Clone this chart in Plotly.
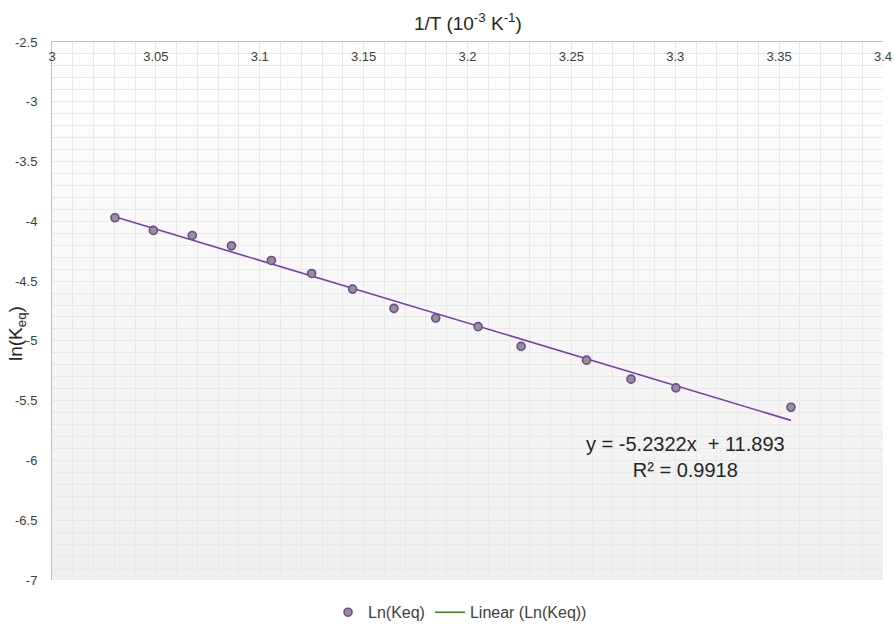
import numpy as np
import plotly.graph_objects as go

# ---- data ----
inv_T = [3.0303, 3.0488, 3.0675, 3.0864, 3.1056, 3.1250, 3.1447, 3.1646,
         3.1847, 3.2051, 3.2258, 3.2573, 3.2787, 3.3003, 3.3557]
ln_keq = [-3.970, -4.076, -4.118, -4.205, -4.327, -4.436, -4.567, -4.728,
          -4.809, -4.881, -5.046, -5.161, -5.320, -5.393, -5.555]
slope = -5.2322
intercept = 11.893
r_squared = 0.9918
x_tickvals = [3.0, 3.05, 3.1, 3.15, 3.2, 3.25, 3.3, 3.35, 3.4]
x_ticktext = ["3", "3.05", "3.1", "3.15", "3.2", "3.25", "3.3", "3.35", "3.4"]
y_tickvals = [-7, -6.5, -6, -5.5, -5, -4.5, -4, -3.5, -3, -2.5]
y_ticktext = ["-7", "-6.5", "-6", "-5.5", "-5", "-4.5", "-4", "-3.5", "-3", "-2.5"]
x_title = "1/T (10<sup>-3</sup> K<sup>-1</sup>)"
y_title = "ln(K<sub>eq</sub>)"
series_name = "Ln(Keq)"
trend_name = "Linear (Ln(Keq))"

FONT = "Liberation Sans, Arial, sans-serif"
PURPLE = "#7a3ea8"
TEXT = "#404040"

trend_x = np.array([min(inv_T), max(inv_T)])
trend_y = slope * trend_x + intercept

fig = go.Figure()

# trendline (drawn in purple, legend entry separate)
fig.add_trace(go.Scatter(
    x=trend_x, y=trend_y, mode="lines",
    line=dict(color=PURPLE, width=1.6),
    showlegend=False, hoverinfo="skip"))

fig.add_trace(go.Scatter(
    x=inv_T, y=ln_keq, mode="markers", name=series_name,
    marker=dict(size=8, color="#8c9a84",
                line=dict(color=PURPLE, width=1.6))))

# legend-only entry for the trendline
fig.add_trace(go.Scatter(
    x=[None], y=[None], mode="lines", name=trend_name,
    line=dict(color="#3f7f23", width=1.6)))

# vertical gradient background (white -> light grey)
n_strips = 60
shapes = []
for i in range(n_strips):
    t = i / (n_strips - 1)
    v = int(round(255 - t * (255 - 239)))
    shapes.append(dict(
        type="rect", xref="x domain", yref="y domain",
        x0=0, x1=1, y0=1 - (i + 1) / n_strips, y1=1 - i / n_strips,
        fillcolor=f"rgb({v},{v},{v})", line=dict(width=0), layer="below"))

grid_c = "#e9e9e9"
fig.update_layout(
    width=894, height=626,
    margin=dict(l=52, r=11, t=42, b=46, autoexpand=False),
    paper_bgcolor="white", plot_bgcolor="white",
    font=dict(family=FONT, color=TEXT, size=13),
    shapes=shapes,
    showlegend=True,
    legend=dict(orientation="h", x=0.491, xanchor="center", y=-0.06, yanchor="middle",
                font=dict(size=16, color=TEXT, family=FONT),
                bgcolor="rgba(0,0,0,0)"),
    xaxis=dict(
        range=[3, 3.4], side="top",
        tickmode="array", tickvals=x_tickvals, ticktext=x_ticktext,
        showgrid=True, gridcolor=grid_c, gridwidth=1,
        minor=dict(dtick=0.01, tick0=3, showgrid=True, gridcolor=grid_c, gridwidth=1),
        showline=True, linecolor="#bfbfbf", linewidth=1,
        zeroline=False, ticks="", ticklabelposition="inside",
        ticklabeloverflow="allow", ticklabelstandoff=10,
        tickfont=dict(size=13, color=TEXT, family=FONT)),
    yaxis=dict(
        range=[-7, -2.5],
        tickmode="array", tickvals=y_tickvals, ticktext=y_ticktext,
        showgrid=True, gridcolor=grid_c, gridwidth=1,
        minor=dict(dtick=0.1, tick0=-7, showgrid=True, gridcolor=grid_c, gridwidth=1),
        showline=True, linecolor="#bfbfbf", linewidth=1,
        zeroline=False, ticks="", ticklabelstandoff=11,
        ticklabeloverflow="allow",
        tickfont=dict(size=13, color=TEXT, family=FONT)),
    annotations=[
        dict(text=x_title, xref="paper", yref="paper", x=0.5, y=1,
             yanchor="middle", yshift=20, showarrow=False,
             font=dict(size=19, color="#262626", family=FONT)),
        dict(text=y_title, xref="paper", yref="paper", x=0, xshift=-35,
             xanchor="center", yanchor="middle",
             y=0.5, yshift=-23, textangle=-90, showarrow=False,
             font=dict(size=19, color="#262626", family=FONT)),
        dict(text=f"y = {slope}x  + {intercept}<br>R² = {r_squared}",
             xref="x", yref="y", x=3.305, y=-5.97, showarrow=False,
             align="center", font=dict(size=20, color="#262626", family=FONT)),
    ],
)

fig.write_html("out.html")
